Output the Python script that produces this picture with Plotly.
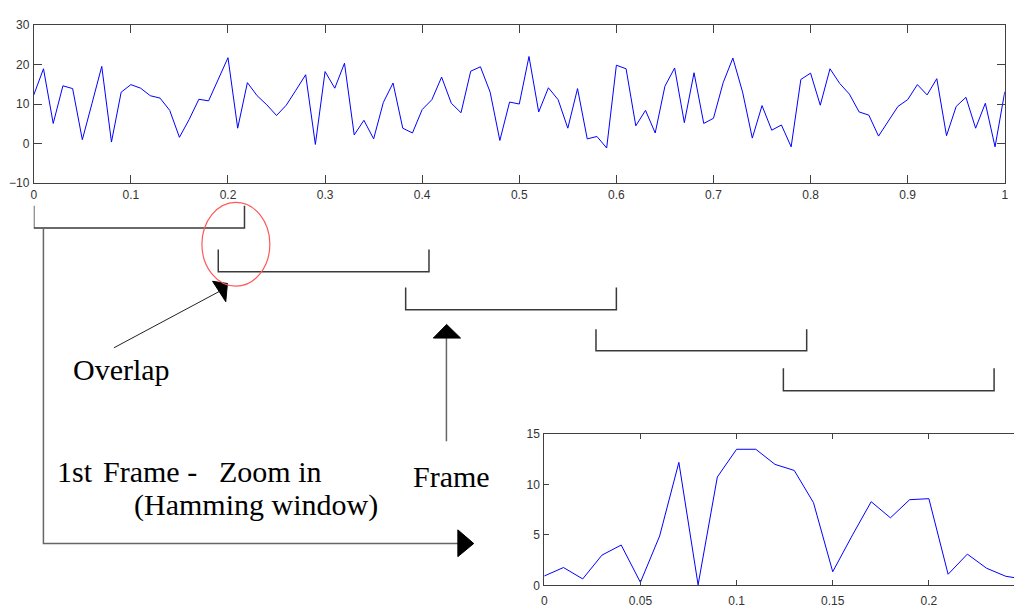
import plotly.graph_objects as go

W, H = 1018, 608

# ---- data: full signal (top) ----
sig_t = [round(i * 0.01, 2) for i in range(101)]
sig_y = [12.3, 18.9, 5.1, 14.6, 13.9, 1.0, 10.2, 19.5, 0.4, 13.0,
         14.9, 14.0, 12.1, 11.5, 8.4, 1.6, 6.1, 11.2, 10.8, 16.4,
         21.7, 3.9, 15.4, 12.1, 9.8, 7.1, 9.7, 13.5, 17.4, -0.2,
         18.2, 14.0, 20.3, 2.2, 5.9, 1.2, 10.4, 15.3, 3.9, 2.7,
         8.6, 11.1, 16.8, 10.2, 7.8, 18.3, 19.4, 13.0, 0.8, 10.5,
         10.0, 22.0, 8.0, 14.1, 11.1, 3.9, 13.9, 1.2, 1.8, -1.1,
         19.8, 18.9, 4.5, 8.4, 2.7, 14.5, 19.1, 5.3, 17.9, 5.1,
         6.4, 15.4, 21.6, 13.0, 1.4, 9.6, 3.4, 4.7, -0.8, 16.2,
         17.8, 9.7, 18.9, 15.2, 12.5, 8.0, 7.2, 1.9, 5.6, 9.4,
         11.1, 14.9, 12.3, 16.4, 2.0, 9.4, 11.7, 3.9, 10.2, -0.8,
         13.1]

# ---- data: first frame, windowed (bottom) ----
win_t = [round(i * 0.01, 2) for i in range(26)]
win_y = [0.93, 1.77, 0.64, 3.0, 4.0, 0.3, 4.9, 12.2, 0.05, 10.75,
         13.5, 13.5, 12.0, 11.4, 8.2, 1.35, 4.9, 8.3, 6.7, 8.5,
         8.6, 1.1, 3.1, 1.7, 0.9, 0.6]

top_xticks = [0, 0.1, 0.2, 0.3, 0.4, 0.5, 0.6, 0.7, 0.8, 0.9, 1]
top_yticks = [-10, 0, 10, 20, 30]
bot_xticks = [0, 0.05, 0.1, 0.15, 0.2]
bot_yticks = [0, 5, 10, 15]

# frames (in seconds on top axis)
frame_starts = [0, 0.19, 0.383, 0.579, 0.772]
frame_len = 0.217

labels = {
    "overlap": "Overlap",
    "first": "1st",
    "frame_dash": "Frame -",
    "zoom": "Zoom in",
    "hamming": "(Hamming window)",
    "frame": "Frame",
}


def px(x):
    return x / W


def py(y):
    return 1 - y / H


fig = go.Figure()
fig.add_trace(go.Scatter(x=sig_t, y=sig_y, mode="lines",
                         line=dict(color="#0000ff", width=1),
                         xaxis="x", yaxis="y", hoverinfo="skip"))
fig.add_trace(go.Scatter(x=win_t, y=win_y, mode="lines",
                         line=dict(color="#0000ff", width=1),
                         xaxis="x2", yaxis="y2", hoverinfo="skip"))

tickfont = dict(family="Liberation Sans, Arial, sans-serif", size=12, color="#333333")
axcommon = dict(showgrid=False, zeroline=False, showline=True, linecolor="#404040",
                linewidth=1, ticks="inside", tickcolor="#404040", tickfont=tickfont,
                fixedrange=True)

fig.update_layout(
    width=W, height=H, margin=dict(l=0, r=0, t=0, b=0),
    paper_bgcolor="white", plot_bgcolor="white", showlegend=False,
    xaxis=dict(domain=[px(31), px(1008.7)], range=[0, 1], tickvals=top_xticks,
               mirror="ticks", ticklen=8, anchor="y", **axcommon),
    yaxis=dict(domain=[py(181), py(18.3)], range=[-10, 30], tickvals=top_yticks,
               mirror="ticks", ticklen=8, anchor="x", ticklabelstandoff=1, **axcommon),
    xaxis2=dict(domain=[px(545), 1], range=[0, (1018 - 545) / 1936.5], tickvals=bot_xticks,
                mirror="ticks", ticklen=5, anchor="y2", ticklabelstandoff=4, **axcommon),
    yaxis2=dict(domain=[py(594), py(438.7)], range=[0, 15], tickvals=bot_yticks,
                mirror=False, ticklen=5, anchor="x2", ticklabelstandoff=1, **axcommon),
)

shapes = []
br_top = [204, 249, 288, 331, 371]
br_bot = [227, 272, 311, 353, 394]
for s, yt, yb in zip(frame_starts, br_top, br_bot):
    e = s + frame_len
    shapes.append(dict(type="path", xref="x", yref="paper",
                       path=f"M {s},{py(yt)} L {s},{py(yb)} L {e},{py(yb)} L {e},{py(yt)}",
                       line=dict(color="#3a3a3a", width=1.5)))

# connector from first frame to zoomed plot
shapes.append(dict(type="path", xref="paper", yref="paper",
                   path=f"M {px(40.7)},{py(227)} L {px(40.7)},{py(551)} L {px(459)},{py(551)}",
                   line=dict(color="#666666", width=1.5)))
shapes.append(dict(type="path", xref="paper", yref="paper",
                   path=f"M {px(458)},{py(537)} L {px(474)},{py(551)} L {px(458)},{py(564.5)} Z",
                   fillcolor="black", line=dict(color="black", width=1)))

# frame arrow
shapes.append(dict(type="line", xref="paper", yref="paper",
                   x0=px(446.5), y0=py(339), x1=px(446.5), y1=py(446),
                   line=dict(color="#666666", width=1.5)))
shapes.append(dict(type="path", xref="paper", yref="paper",
                   path=f"M {px(433.3)},{py(340)} L {px(446.7)},{py(326)} L {px(460.7)},{py(340)} Z",
                   fillcolor="black", line=dict(color="black", width=1)))

# overlap arrow
shapes.append(dict(type="line", xref="paper", yref="paper",
                   x0=px(111.7), y0=py(350), x1=px(217.7), y1=py(292.2),
                   line=dict(color="#222222", width=1)))
shapes.append(dict(type="path", xref="paper", yref="paper",
                   path=f"M {px(211)},{py(281.7)} L {px(226)},{py(284)} L {px(224.3)},{py(302.7)} Z",
                   fillcolor="black", line=dict(color="black", width=1)))

# red ellipse marking overlap
shapes.append(dict(type="circle", xref="paper", yref="paper",
                   x0=px(200.3), y0=py(286.7), x1=px(268.7), y1=py(200.7),
                   line=dict(color="#ff5a5a", width=1.2)))

fig.update_layout(shapes=shapes)

serif = dict(family="Liberation Serif, Times New Roman, serif", size=30, color="black")


def label(text, x_left, baseline):
    fig.add_annotation(text=text, xref="paper", yref="paper",
                       x=px(x_left - 3), y=py(baseline - 9),
                       xanchor="left", yanchor="middle", showarrow=False, font=serif)


label(labels["overlap"], 71, 381)
label(labels["first"], 55, 486)
label(labels["frame_dash"], 101.7, 486)
label(labels["zoom"], 218.3, 486)
label(labels["hamming"], 132.7, 520.7)
label(labels["frame"], 414.3, 491.7)

fig.write_html("out.html", config={"displayModeBar": False, "staticPlot": True})
